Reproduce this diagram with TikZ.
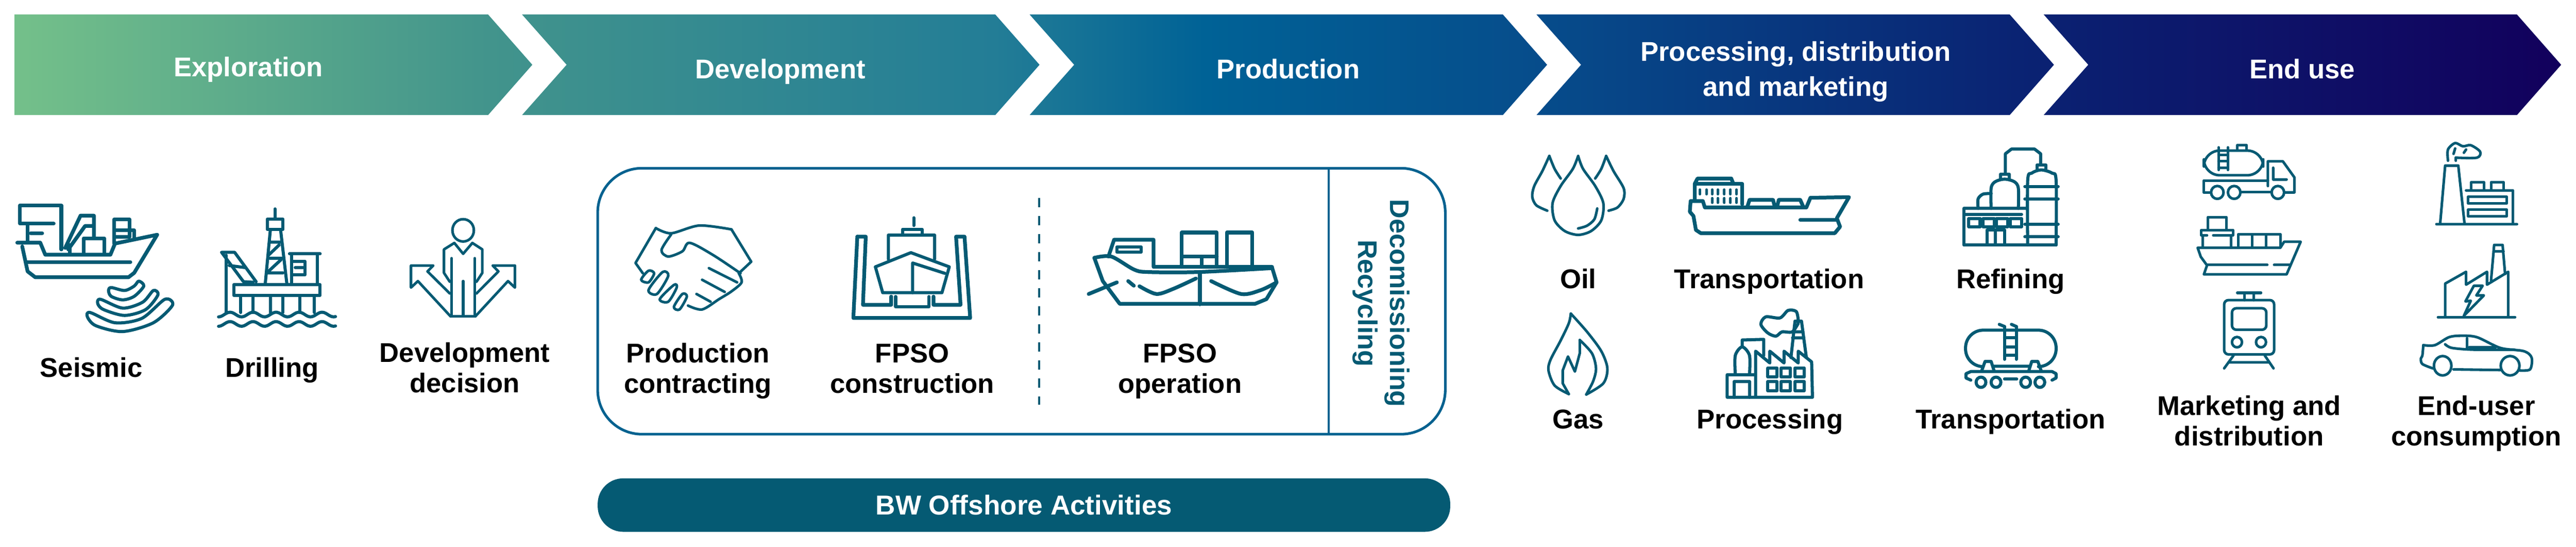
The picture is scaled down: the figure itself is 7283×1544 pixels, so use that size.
\documentclass[tikz,border=0pt]{standalone}
\usepackage{fontspec}
\setmainfont{Liberation Sans}
\usetikzlibrary{positioning}
\definecolor{iconcol}{RGB}{5,90,115}
\definecolor{framecol}{RGB}{0,97,143}
\definecolor{stopa}{RGB}{116,192,138}
\definecolor{stopb}{RGB}{66,148,140}
\definecolor{stopc}{RGB}{35,125,150}
\definecolor{stopd}{RGB}{0,98,150}
\definecolor{stope}{RGB}{6,78,140}
\definecolor{stopf}{RGB}{10,35,115}
\definecolor{stopg}{RGB}{18,0,92}
\pgfdeclarehorizontalshading{chainshade}{100bp}{color(0bp)=(stopa);color(25bp)=(stopa);color(34.3bp)=(stopb);color(44.25bp)=(stopc);color(48.35bp)=(stopd);color(54.5bp)=(stope);color(64.3bp)=(stopf);color(75bp)=(stopg);color(100bp)=(stopg)}
\begin{document}
\begin{tikzpicture}[x=0.01cm,y=-0.01cm]

        \tikzstyle{head}=[inner sep=0pt,text=white,align=center,anchor=base,font=\fontsize{21.8}{28.4}\selectfont\bfseries]
        \tikzstyle{txt}=[inner sep=0pt,text=black,align=center,anchor=base,font=\fontsize{21.8}{24.4}\selectfont\bfseries]
        \tikzstyle{icon}=[draw=iconcol,line width=3pt,line join=round,line cap=round]
        \tikzstyle{mid}=[draw=iconcol,line width=2.5pt,line join=round,line cap=round]
        \tikzstyle{thin}=[draw=iconcol,line width=2.1pt,line join=round,line cap=round]
        \tikzstyle{cropA}=[shift={(0,0)},x=0.01084cm,y=-0.00829cm]
        \tikzstyle{cropB}=[shift={(1650,400)},x=0.01594cm,y=-0.007296cm]
        \tikzstyle{cropC}=[shift={(4200,380)},x=0.01148cm,y=-0.00606cm]
        \tikzstyle{cropD}=[shift={(5900,380)},x=0.00882cm,y=-0.00606cm]

        \useasboundingbox (0,0) rectangle (7283,1544);

        \shade[shading=chainshade] (41,41) -- (1380,41) -- (1505,183) -- (1380,325) -- (41,325) -- cycle
          \foreach \s in {1476,2911,4344,5778} {(\s,41) -- (\s+1338,41) -- (\s+1463,183) -- (\s+1338,325) -- (\s,325) -- (\s+126,183) -- cycle};

        \node[head] (exploration) at (702,217) {Exploration};
        \node[head] (development) at (2206,222) {Development};
        \node[head] (production) at (3642,222) {Production};
        \node[head] (processing) at (5077,272) {Processing, distribution\\and marketing};
        \node[head] (enduse) at (6509,222) {End use};

        \node[txt] (seismic) at (258,1065) {Seismic};
        \node[txt] (drilling) at (769,1065) {Drilling};
        \node[txt] (decision) at (1314,1109) {Development\\decision};
        \node[txt] (contracting) at (1973,1110) {Production\\contracting};
        \node[txt] (construction) at (2579,1110) {FPSO\\construction};
        \node[txt] (operation) at (3336,1110) {FPSO\\operation};
        \node[txt] (oil) at (4462,815) {Oil};
        \node[txt] (shipping) at (5002,815) {Transportation};
        \node[txt] (refining) at (5684,815) {Refining};
        \node[txt] (gas) at (4462,1211) {Gas};
        \node[txt] (plant) at (5004,1211) {Processing};
        \node[txt] (railing) at (5684,1211) {Transportation};
        \node[txt] (marketing) at (6359,1259) {Marketing and\\distribution};
        \node[txt] (consumption) at (7001,1259) {End-user\\consumption};

        \node[draw=framecol,line width=2.1pt,rounded corners=1.25cm,minimum width=23.95cm,minimum height=7.51cm] (frame) at (2888,851) {};
        \coordinate (divtop) at (3757,476);
        \coordinate (divbot) at (3757,1227);
        \draw[framecol,line width=1.7pt] (divtop) -- (divbot);
        \coordinate (dashtop) at (2938,559);
        \coordinate (dashbot) at (2938,1143);
        \draw[iconcol,line width=1.7pt,dash pattern=on 7.7pt off 6.8pt] (dashtop) -- (dashbot);
        \node[rotate=-90,inner sep=0pt,align=center,text=iconcol,font=\fontsize{21.6}{26}\selectfont\bfseries] (decom) at (3905,857) {Decomissioning\\Recycling};

        \node[fill=iconcol,rounded corners=0.72cm,minimum width=24.09cm,minimum height=1.51cm,inner sep=0pt,text=white,font=\fontsize{22}{24}\selectfont\bfseries] (bwo) at (2895,1427) {BW Offshore Activities};

        \begin{scope}[cropA]
          \draw[icon] (160,850) -- (160,700) -- (52,700) -- (52,762) -- (140,762);
          \draw[icon] (72,765) -- (72,825) (80,795) -- (110,795);
          \draw[icon] (45,827) -- (105,827) -- (118,868) -- (288,868) -- (300,830) -- (410,800) -- (350,930) -- (335,945) -- (92,945) -- (72,925) -- (58,840);
          \draw[icon] (72,893) -- (340,893);
          \draw[icon] (170,845) -- (210,735) -- (245,735) -- (245,810) (178,850) -- (222,770) -- (245,770);
          \draw[icon] (218,865) -- (218,812) -- (272,812) -- (272,865) (182,865) -- (182,835);
          \draw[icon] (298,830) -- (298,748) -- (338,748) -- (338,808) -- (298,808) (298,785) -- (350,785) -- (350,810);
          \draw[mid] plot[smooth cycle] coordinates {(235,1065) (300,1100) (370,1085) (430,1020) (450,1040) (400,1100) (320,1130) (250,1110) (228,1080)};
          \draw[mid] plot[smooth cycle] coordinates {(262,1020) (320,1050) (372,1030) (400,990) (412,1005) (380,1055) (325,1075) (270,1055) (255,1035)};
          \draw[mid] plot[smooth cycle] coordinates {(290,980) (325,990) (350,975) (362,958) (375,975) (350,1010) (320,1022) (290,1010) (283,990)};

          \draw[mid] (717,712) -- (717,745) (697,747) rectangle (738,782);
          \draw[mid] (692,965) -- (705,785) (732,785) -- (748,965);
          \draw[mid] (705,825) -- (733,825) (703,880) -- (735,880) (700,870) -- (728,835) (700,925) -- (733,885) (697,930) -- (738,930);
          \draw[mid] (610,970) rectangle (835,1007);
          \foreach \l in {628,660,705,738,782,820} {\draw[mid] (\l,1007) -- (\l,1065);}
          \draw[mid] (590,870) -- (590,1065);
          \draw[mid] (578,860) -- (612,860) -- (668,960) (578,860) -- (635,960) -- (660,962) (598,905) -- (640,912);
          \draw[mid] (755,865) -- (835,865) (760,865) -- (760,965) (828,865) -- (828,965) (765,890) -- (795,890) -- (795,937) -- (765,937) (770,912) -- (790,912);
          \draw[mid] plot[domain=570:875,samples=61,smooth] (\x,{1072+8*cos(6*(\x-570))});
          \draw[mid] plot[domain=570:875,samples=61,smooth] (\x,{1104+8*cos(6*(\x-570))});

          \draw[thin] (1208,785) ellipse [x radius=28,y radius=38];
          \draw[thin] (1173,960) -- (1158,930) -- (1158,850) -- (1185,828) -- (1208,865) -- (1232,828) -- (1258,850) -- (1258,930) -- (1243,960);
          \draw[thin] (1178,880) -- (1178,1078) (1238,880) -- (1238,1078) (1208,958) -- (1208,1078) (1175,1078) -- (1240,1078);
          \draw[thin] (1173,1000) -- (1115,925) -- (1130,905) -- (1072,905) -- (1072,980) -- (1090,958) -- (1175,1078);
          \draw[thin] (1243,1000) -- (1300,925) -- (1285,905) -- (1343,905) -- (1343,980) -- (1325,958) -- (1240,1078);
        \end{scope}

        \begin{scope}[cropB]
          \draw[thin] (105,510) -- (92,470) -- (128,335);
          \draw[thin] plot[smooth] coordinates {(128,335) (155,355) (205,325) (262,340)};
          \draw[thin] (262,340) -- (297,465) -- (275,510);
          \draw[thin] plot[smooth] coordinates {(155,360) (138,420) (150,445) (175,425) (188,392) (230,440) (278,510)};
          \draw[thin] (222,490) -- (272,545) (210,535) -- (250,582) (200,590) -- (225,620);
          \draw[thin] plot[smooth] coordinates {(275,510) (280,545) (262,580) (240,610) (210,650) (185,635)};
          \draw[thin] plot[smooth cycle] coordinates {(115,500) (125,510) (115,545) (102,535)};
          \draw[thin] plot[smooth cycle] coordinates {(140,505) (150,520) (130,590) (115,575)};
          \draw[thin] plot[smooth cycle] coordinates {(160,555) (165,565) (150,620) (135,610)};
          \draw[thin] plot[smooth cycle] coordinates {(175,590) (183,600) (170,650) (160,640)};

          \draw[icon] (485,368) -- (478,683) -- (685,683) -- (675,368) -- (660,368) -- (668,632) -- (620,632) -- (620,600);
          \draw[icon] (485,368) -- (500,368) -- (495,632) -- (545,632) -- (545,600);
          \draw[mid] (517,485) -- (580,430) -- (648,485) -- (635,585) -- (530,585) -- cycle;
          \draw[mid] (583,585) -- (583,470) -- (640,510) (540,455) -- (540,362) -- (622,362) -- (622,455);
          \draw[mid] (565,358) -- (565,340) -- (600,340) -- (600,358) (585,295) -- (585,325);
          \draw[mid] (553,600) -- (553,640) -- (612,640) -- (612,600);

          \draw[icon] (905,450) -- (920,540) -- (950,628) -- (1190,628) -- (1210,610) -- (1228,545) -- (1220,488);
          \draw[icon] plot[smooth] coordinates {(905,450) (935,445) (975,495) (1000,505) (1090,505) (1220,490)};
          \draw[icon] (930,445) -- (940,380) -- (1010,380) -- (1010,485) -- (1220,485);
          \draw[mid] (945,408) rectangle (988,428);
          \draw[icon] (1060,485) -- (1060,352) -- (1122,352) -- (1122,485) (1140,485) -- (1140,352) -- (1185,352) -- (1185,485);
          \draw[icon] (1060,445) -- (1122,445) (1095,445) -- (1095,485) (1092,505) -- (1092,630);
          \draw[icon] plot[smooth] coordinates {(985,560) (1015,590) (1045,570) (1085,530)};
          \draw[icon] plot[smooth] coordinates {(1112,540) (1165,590) (1200,575) (1228,545)};
          \draw[icon] (895,590) -- (945,545) (965,540) -- (975,558);
        \end{scope}

        \begin{scope}[cropC]
          \draw[thin] plot[smooth] coordinates {(228,100) (215,160) (185,240) (165,320) (170,400) (195,450) (228,468) (260,450) (285,400) (290,320) (270,240) (240,160) (228,100)};
          \draw[thin] plot[smooth] coordinates {(157,100) (140,170) (120,240) (115,290) (125,330) (152,355)};
          \draw[thin] plot[smooth] coordinates {(157,100) (170,160) (185,205)};
          \draw[thin] plot[smooth] coordinates {(297,100) (285,160) (270,205)};
          \draw[thin] plot[smooth] coordinates {(297,100) (315,170) (340,250) (340,300) (325,340) (303,355)};
          \draw[thin] plot[smooth] coordinates {(275,345) (268,395) (250,425) (228,438)};

          \draw[icon] (505,310) -- (535,310) -- (540,340) -- (790,340) -- (800,295) -- (895,292) -- (865,390) -- (873,430) -- (860,460) -- (530,460) -- (518,445) -- (512,380) -- (503,360) -- cycle;
          \draw[icon] (775,398) -- (862,398);
          \draw[icon] (515,305) -- (515,230) -- (632,230) -- (632,325) (515,230) -- (522,205) -- (605,205) -- (610,228);
          \foreach \w in {528,544,558,572,588,603,618} {\draw[thin] (\w,257) -- (\w,278);}
          \foreach \w in {558,572,588,603,618} {\draw[thin] (\w,297) -- (\w,318);}
          \draw[icon] (645,335) -- (650,305) -- (708,305) -- (712,335) (718,335) -- (722,305) -- (775,305) -- (782,335);

          \draw[mid] (1178,515) -- (1178,345) -- (1332,345) (1178,515) -- (1405,515) (1178,372) -- (1320,372);
          \foreach \w in {1190,1225,1258,1292} {\draw[mid] (\w,392) rectangle +(28,38);}
          \draw[mid] (1235,510) -- (1235,445) -- (1278,445) -- (1278,510) (1255,445) -- (1255,510);
          \draw[mid] plot[smooth] coordinates {(1335,515) (1335,215) (1345,180) (1368,165) (1395,180) (1405,215) (1405,515)};
          \foreach \w in {242,300,418,477} {\draw[mid] (1328,\w) -- (1410,\w);}
          \draw[mid] (1358,160) -- (1358,142) -- (1380,142) -- (1380,160);
          \draw[mid] plot[smooth] coordinates {(1245,345) (1245,250) (1255,220) (1278,208) (1302,220) (1312,250) (1312,345)};
          \draw[mid] (1268,205) -- (1268,185) -- (1290,185) -- (1290,205);
          \draw[mid] (1280,185) -- (1280,90) -- (1295,68) -- (1352,68) -- (1367,90) -- (1367,140);
          \draw[mid] plot[smooth] coordinates {(1213,345) (1213,300) (1225,278) (1245,275)};

          \draw[thin] plot[smooth] coordinates {(210,835) (205,880) (185,960) (160,1050) (155,1100) (170,1170) (205,1210)};
          \draw[thin] plot[smooth] coordinates {(210,835) (250,920) (285,1010) (300,1090) (290,1160) (248,1212)};
          \draw[thin] plot[smooth] coordinates {(248,1212) (265,1150) (272,1090) (262,1020) (232,958)};
          \draw[thin] (232,958) -- (232,1020) -- (220,1105) -- (203,1035) -- (190,1100) -- (190,1160) -- (205,1210);

          \draw[mid] (665,1225) -- (665,1010) -- (700,1065) -- (700,1010) -- (735,1065) -- (735,1010) -- (770,1065) -- (770,1010) -- (803,1060) -- (805,1225) -- (595,1225) -- (595,1120) -- (665,1120);
          \draw[mid] (612,1225) -- (612,1152) -- (650,1152) -- (650,1225);
          \foreach \w in {695,728,762} {\draw[mid] (\w,1088) rectangle +(23,42) (\w,1152) rectangle +(23,42);}
          \draw[mid] plot[smooth] coordinates {(615,1120) (615,1030) (632,990) (650,1030) (650,1120)};
          \draw[mid] (632,990) -- (632,958) -- (685,955) -- (685,1030);
          \draw[mid] (752,1040) -- (762,870) -- (778,870) -- (790,1040) (758,920) -- (782,920) (756,948) -- (784,948);
          \draw[mid] plot[smooth] coordinates {(770,865) (765,825) (745,820) (725,855) (690,850) (678,885) (695,925) (715,940) (730,920) (755,920) (770,880)};

          \draw[mid,rounded corners=0.5cm] (1225,1082) -- (1182,1082) -- (1182,912) -- (1405,912) -- (1405,1082) -- (1365,1082);
          \draw[mid] (1278,895) -- (1278,1048) (1307,895) -- (1307,1048) (1278,948) -- (1307,948) (1278,990) -- (1307,990) (1278,1030) -- (1307,1030);
          \draw[mid] (1265,885) -- (1278,895) (1295,885) -- (1307,895);
          \draw[mid] (1222,1100) -- (1230,1058) -- (1245,1058) -- (1252,1100) (1338,1100) -- (1345,1058) -- (1360,1058) -- (1368,1100) (1250,1080) -- (1338,1080);
          \draw[mid] (1195,1145) -- (1183,1135) -- (1183,1115) -- (1195,1105) -- (1395,1105) -- (1405,1115) -- (1405,1135) -- (1395,1145);
          \foreach \w in {1220,1257,1330,1365} {\draw[mid,fill=white] (\w,1155) ellipse [x radius=12,y radius=24];}
          \draw[mid] (1278,1140) -- (1308,1140);
        \end{scope}

        \begin{scope}[cropD]
          \draw[thin,rounded corners=0.45cm] (375,75) rectangle (565,190);
          \draw[thin] (482,72) -- (482,50) -- (512,50) -- (512,72);
          \draw[thin] (422,60) -- (422,165) (452,60) -- (452,165) (422,95) -- (452,95) (422,125) -- (452,125) (422,155) -- (452,155);
          \draw[thin] (375,215) -- (580,215) (375,215) -- (375,270) -- (398,270) (495,268) -- (590,268);
          \draw[thin] (418,270) ellipse [x radius=20,y radius=30] (472,270) ellipse [x radius=20,y radius=30] (612,270) ellipse [x radius=20,y radius=30];
          \draw[thin] (580,240) -- (580,125) -- (628,125) -- (665,200) -- (665,270) -- (635,270) (597,155) -- (597,210) -- (640,210);

          \draw[thin] (355,528) -- (620,528) -- (632,500) -- (685,500) -- (640,652) -- (375,652) -- (385,610) -- (365,570) -- cycle;
          \draw[thin] (385,608) -- (578,608) (600,608) -- (650,608);
          \draw[thin] (485,522) -- (485,465) -- (620,465) -- (620,522) (530,465) -- (530,522) (575,465) -- (575,522);
          \draw[thin] (372,525) -- (372,470) (462,525) -- (462,470) (367,470) -- (367,445) -- (468,445) -- (468,470) -- (405,470) (367,470) -- (385,470);
          \draw[thin] (388,445) -- (388,385) -- (447,385) -- (447,445);

          \draw[thin,rounded corners=0.12cm] (440,772) rectangle (600,1025) (465,810) rectangle (575,910);
          \draw[thin] (481,968) ellipse [x radius=16,y radius=24] (558,968) ellipse [x radius=16,y radius=24];
          \draw[thin] (482,738) -- (558,738) (505,738) -- (505,772) (535,738) -- (535,772);
          \draw[thin] (470,1030) -- (440,1090) (570,1030) -- (598,1090) (455,1062) -- (585,1062);

          \draw[thin] (1132,415) -- (1148,145) -- (1190,145) -- (1210,415) (1120,418) -- (1378,418);
          \draw[thin] plot[smooth] coordinates {(1157,122) (1157,70) (1180,40) (1205,55) (1230,50) (1260,80) (1250,108) (1182,108)};
          \draw[thin] (1182,108) -- (1182,122) (1175,90) -- (1180,65) (1208,85) -- (1215,70);
          \draw[thin] (1215,260) -- (1365,260) -- (1365,415) (1222,290) rectangle (1345,322) (1222,350) rectangle (1345,382);
          \draw[thin] (1232,255) -- (1232,222) -- (1272,222) -- (1272,255) (1295,255) -- (1295,222) -- (1335,222) -- (1335,255);

          \draw[thin] (1125,852) -- (1372,852) (1148,852) -- (1148,695) -- (1215,640) -- (1215,700) -- (1282,640) -- (1282,700) -- (1350,640) -- (1350,852);
          \draw[thin] (1295,680) -- (1305,515) -- (1332,515) -- (1340,650) (1303,545) -- (1335,545);
          \draw[thin] (1240,705) -- (1268,705) -- (1248,750) -- (1272,750) -- (1208,845) -- (1230,775) -- (1213,778) -- cycle;

          \draw[thin] plot[smooth] coordinates {(1108,1090) (1075,1070) (1070,1045) (1075,1030) (1078,982)};
          \draw[thin] plot[smooth] coordinates {(1078,982) (1115,982) (1160,945) (1200,938) (1250,945) (1325,995) (1400,1010) (1425,1040) (1420,1095) (1385,1100)};
          \draw[thin] (1175,1095) -- (1325,1098);
          \draw[thin] (1140,1078) ellipse [x radius=28,y radius=45] (1356,1078) ellipse [x radius=30,y radius=45];
          \draw[thin] plot[smooth] coordinates {(1148,978) (1170,995) (1240,1003) (1370,1003)};
          \draw[thin] (1218,950) -- (1218,1000) (1225,992) -- (1310,992);
        \end{scope}
      \end{tikzpicture}
\end{document}
